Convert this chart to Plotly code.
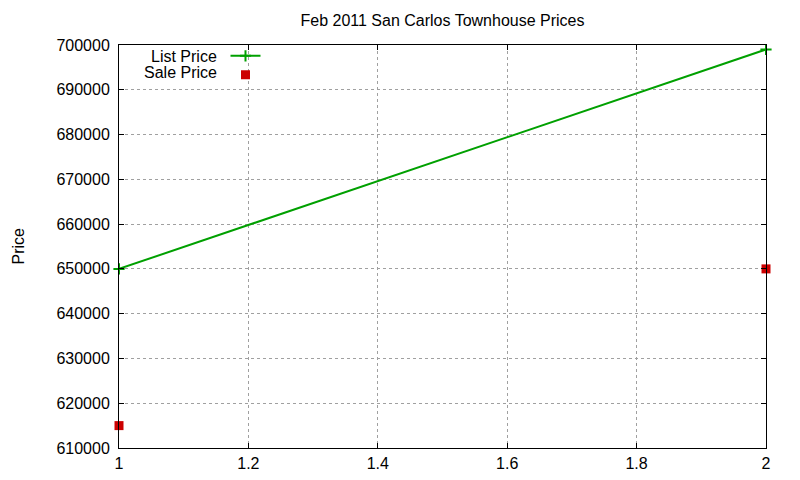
import plotly.graph_objects as go

# data
list_x = [1, 2]
list_price = [650000, 699000]
sale_x = [1, 2]
sale_price = [615000, 650000]
x_ticks = [1, 1.2, 1.4, 1.6, 1.8, 2]
y_ticks = [610000, 620000, 630000, 640000, 650000, 660000, 670000, 680000, 690000, 700000]

FONT = "Liberation Sans, Arial, sans-serif"

fig = go.Figure()

fig.add_trace(
    go.Scatter(
        x=list_x,
        y=list_price,
        mode="lines+markers",
        name=" ",
        line=dict(color="#00a000", width=2),
        marker=dict(symbol="cross-thin-open", size=8, line=dict(color="#00a000", width=2)),
        cliponaxis=False,
    )
)
fig.add_trace(
    go.Scatter(
        x=sale_x,
        y=sale_price,
        mode="markers",
        name=" ",
        marker=dict(symbol="square", size=9, color="#cc0000"),
        cliponaxis=False,
    )
)

axis_common = dict(
    showline=True,
    linecolor="black",
    linewidth=1,
    mirror="allticks",
    ticks="inside",
    ticklen=5,
    tickcolor="black",
    showgrid=True,
    gridcolor="#a0a0a0",
    griddash="dot",
    gridwidth=1,
    zeroline=False,
    automargin=False,
    tickfont=dict(family=FONT, size=16, color="black"),
)

fig.update_xaxes(range=[1, 2], tickvals=x_ticks, ticklabelstandoff=1, **axis_common)
fig.update_yaxes(
    range=[610000, 700000],
    tickvals=y_ticks,
    tickformat="d",
    ticklabelstandoff=5,
    **axis_common,
)

# y axis title
fig.add_annotation(
    text="Price", xref="paper", yref="paper", x=0, y=0.5,
    xshift=-101, textangle=-90, showarrow=False,
    xanchor="center", yanchor="middle",
    font=dict(family=FONT, size=16, color="black"),
)

# legend labels on the left of the samples, gnuplot style
fig.add_annotation(
    text="List Price", xref="paper", yref="paper", x=0.154, y=0.972,
    xanchor="right", yanchor="middle", showarrow=False,
    font=dict(family=FONT, size=16, color="black"),
)
fig.add_annotation(
    text="Sale Price", xref="paper", yref="paper", x=0.154, y=0.932,
    xanchor="right", yanchor="middle", showarrow=False,
    font=dict(family=FONT, size=16, color="black"),
)

fig.update_layout(
    title=dict(
        text="Feb 2011 San Carlos Townhouse Prices",
        x=(111 + 758) / 2 / 800,
        xanchor="center",
        y=1 - 12 / 480,
        yanchor="middle",
        font=dict(family=FONT, size=16, color="black"),
    ),
    width=800,
    height=480,
    margin=dict(l=111, r=42, t=37, b=40),
    paper_bgcolor="white",
    plot_bgcolor="white",
    showlegend=True,
    legend=dict(
        x=0.1646,
        y=1.009,
        xanchor="left",
        yanchor="top",
        bgcolor="rgba(0,0,0,0)",
        font=dict(family=FONT, size=11),
        itemwidth=30,
        tracegroupgap=0,
    ),
)

fig.write_html("out.html")
